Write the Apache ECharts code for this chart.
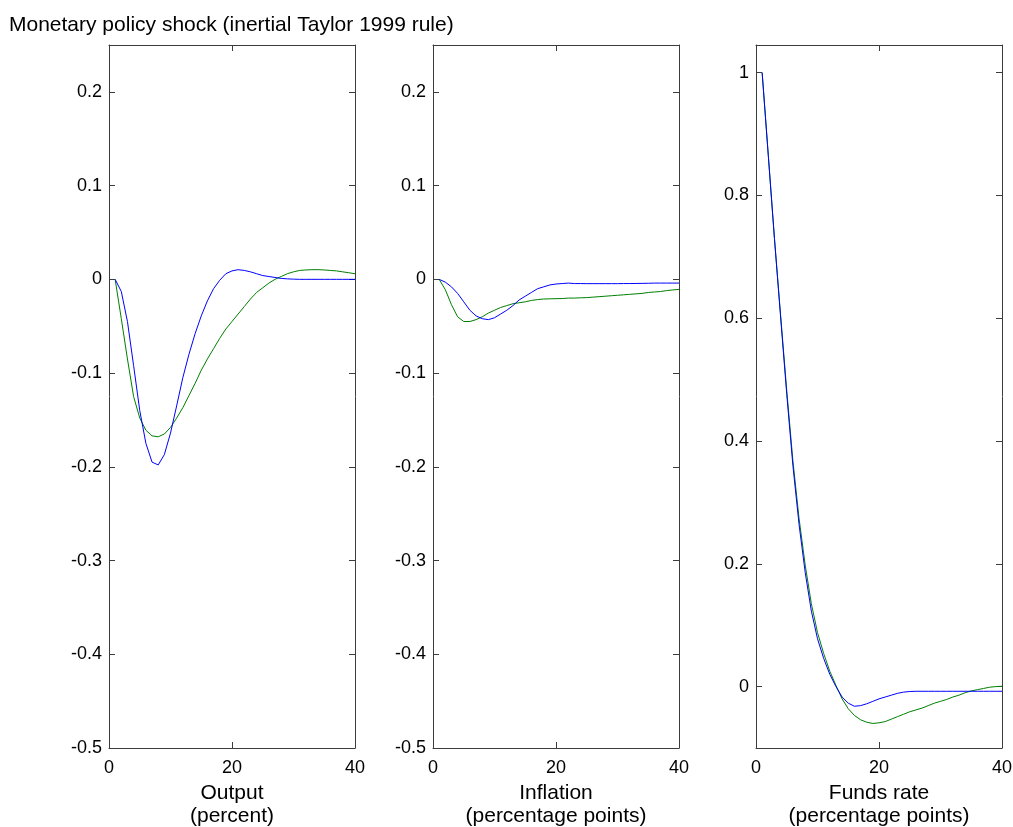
<!DOCTYPE html>
<html>
<head>
<meta charset="utf-8">
<script src="https://cdn.jsdelivr.net/npm/echarts@6/dist/echarts.min.js"></script>
<style>
  html, body { margin: 0; padding: 0; background: #ffffff; overflow: hidden; }
  #chart { width: 1013px; height: 827px; }
</style>
</head>
<body>
<div id="chart"></div>
<script>
// Quarters after the shock
const quarters = [1, 2, 3, 4, 5, 6, 7, 8, 9, 10, 11, 12, 13, 14, 15, 16, 17, 18, 19, 20,
                  21, 22, 23, 24, 25, 26, 27, 28, 29, 30, 31, 32, 33, 34, 35, 36, 37, 38, 39, 40];

// Output response (percent)
const outputBlue = [0, -0.013, -0.045, -0.092, -0.140, -0.175, -0.195, -0.198, -0.187, -0.164,
                    -0.135, -0.105, -0.080, -0.058, -0.039, -0.023, -0.010, -0.001, 0.006, 0.009,
                    0.0103, 0.0095, 0.008, 0.006, 0.004, 0.003, 0.002, 0.001, 0.0005, 0.0002,
                    0, 0, 0, 0, 0, 0, 0, 0, 0, 0];
const outputGreen = [0, -0.042, -0.085, -0.125, -0.148, -0.161, -0.167, -0.168, -0.165, -0.158,
                     -0.148, -0.137, -0.124, -0.111, -0.097, -0.085, -0.074, -0.063, -0.053, -0.045,
                     -0.037, -0.029, -0.021, -0.014, -0.009, -0.004, 0.000, 0.003, 0.006, 0.008,
                     0.0095, 0.010, 0.0103, 0.0103, 0.010, 0.0095, 0.009, 0.008, 0.007, 0.006];

// Inflation response (percentage points)
const inflationBlue = [0, -0.003, -0.008, -0.015, -0.024, -0.033, -0.039, -0.042, -0.043, -0.041,
                       -0.037, -0.033, -0.028, -0.022, -0.018, -0.014, -0.010, -0.008, -0.006, -0.005,
                       -0.0045, -0.004, -0.0045, -0.0045, -0.0046, -0.0046, -0.0046, -0.0046, -0.0046, -0.0046,
                       -0.0045, -0.0045, -0.0044, -0.0043, -0.0042, -0.004, -0.004, -0.004, -0.004, -0.004];
const inflationGreen = [0, -0.011, -0.027, -0.040, -0.045, -0.045, -0.043, -0.040, -0.036, -0.033,
                        -0.030, -0.028, -0.026, -0.025, -0.024, -0.0225, -0.0216, -0.021, -0.0208, -0.0206,
                        -0.0205, -0.020, -0.020, -0.0197, -0.0195, -0.019, -0.0185, -0.018, -0.0175, -0.017,
                        -0.0165, -0.016, -0.0155, -0.015, -0.014, -0.0135, -0.013, -0.012, -0.0113, -0.0107];

// Federal funds rate response (percentage points)
const fundsBlue = [1.0, 0.865, 0.73, 0.602, 0.476, 0.36, 0.264, 0.186, 0.123, 0.078,
                   0.046, 0.02, 0.0, -0.017, -0.027, -0.032, -0.031, -0.028, -0.024, -0.020,
                   -0.017, -0.014, -0.011, -0.009, -0.008, -0.0076, -0.0076, -0.0076, -0.0076, -0.0076,
                   -0.0076, -0.0076, -0.0076, -0.0076, -0.0076, -0.0076, -0.0076, -0.0076, -0.0076, -0.0076];
const fundsGreen = [1.0, 0.865, 0.73, 0.605, 0.482, 0.368, 0.274, 0.198, 0.135, 0.088,
                    0.054, 0.025, 0.002, -0.020, -0.036, -0.047, -0.054, -0.058, -0.060, -0.059,
                    -0.057, -0.053, -0.049, -0.045, -0.041, -0.038, -0.035, -0.031, -0.027, -0.024,
                    -0.021, -0.017, -0.014, -0.010, -0.007, -0.005, -0.003, -0.001, 0.0, 0.0005];

// Tick values
const xTicks = [0, 20, 40];
const smallTicks = [-0.5, -0.4, -0.3, -0.2, -0.1, 0, 0.1, 0.2];
const fundsTicks = [0, 0.2, 0.4, 0.6, 0.8, 1];

// Panel titles (two lines under each x axis)
const panelNames = ['Output\n(percent)', 'Inflation\n(percentage points)', 'Funds rate\n(percentage points)'];

const FONT = 'Liberation Sans';
const AXIS_COLOR = '#3c3c3c';
const BLUE = '#0000ff';
const GREEN = '#008000';

const panels = [
  { left: 109, blue: outputBlue, green: outputGreen, min: -0.5, max: 0.25, ticks: smallTicks },
  { left: 433, blue: inflationBlue, green: inflationGreen, min: -0.5, max: 0.25, ticks: smallTicks },
  { left: 756, blue: fundsBlue, green: fundsGreen, min: -0.1, max: 1.045, ticks: fundsTicks }
];

const fmt = v => String(Math.round(v * 1000) / 1000);

const grid = [], xAxis = [], yAxis = [], series = [];

panels.forEach((p, i) => {
  grid.push({ left: p.left, top: 45, width: 246, height: 703,
              containLabel: false, outerBoundsMode: 'none' });

  const lineStyle = { color: AXIS_COLOR, width: 1 };
  // bottom x axis with labels and name
  xAxis.push({
    type: 'value', gridIndex: i, min: 0, max: 40, position: 'bottom',
    axisLine: { show: true, onZero: false, lineStyle },
    axisTick: { show: true, inside: true, length: 6, lineStyle, customValues: xTicks },
    axisLabel: { show: true, color: '#000', fontFamily: FONT, fontSize: 18, margin: 11, customValues: xTicks },
    splitLine: { show: false },
    name: panelNames[i], nameLocation: 'middle', nameGap: 34,
    nameTextStyle: { color: '#000', fontFamily: FONT, fontSize: 21, lineHeight: 23, verticalAlign: 'top' }
  });
  // top mirror axis (box edge + ticks)
  xAxis.push({
    type: 'value', gridIndex: i, min: 0, max: 40, position: 'top',
    axisLine: { show: true, onZero: false, lineStyle },
    axisTick: { show: true, inside: true, length: 6, lineStyle, customValues: xTicks },
    axisLabel: { show: false },
    splitLine: { show: false }
  });
  // left y axis with labels
  yAxis.push({
    type: 'value', gridIndex: i, min: p.min, max: p.max, position: 'left',
    axisLine: { show: true, onZero: false, lineStyle },
    axisTick: { show: true, inside: true, length: 6, lineStyle, customValues: p.ticks },
    axisLabel: { show: true, color: '#000', fontFamily: FONT, fontSize: 18, margin: 7,
                 customValues: p.ticks, formatter: fmt },
    splitLine: { show: false }
  });
  // right mirror axis
  yAxis.push({
    type: 'value', gridIndex: i, min: p.min, max: p.max, position: 'right',
    axisLine: { show: true, onZero: false, lineStyle },
    axisTick: { show: true, inside: true, length: 6, lineStyle, customValues: p.ticks },
    axisLabel: { show: false },
    splitLine: { show: false }
  });

  const mk = (vals, color, z) => ({
    type: 'line', xAxisIndex: 2 * i, yAxisIndex: 2 * i,
    data: quarters.map((q, k) => [q, vals[k]]),
    showSymbol: false, smooth: false, silent: true, z,
    lineStyle: { color, width: 1 }, itemStyle: { color }
  });
  series.push(mk(p.green, GREEN, 2));
  series.push(mk(p.blue, BLUE, 3));
});

const chart = echarts.init(document.getElementById('chart'), null, { renderer: 'canvas' });
chart.setOption({
  animation: false,
  backgroundColor: '#ffffff',
  title: {
    text: 'Monetary policy shock (inertial Taylor 1999 rule)',
    left: 4, top: 10,
    textStyle: { color: '#000', fontFamily: FONT, fontSize: 21, fontWeight: 'normal' }
  },
  grid, xAxis, yAxis, series
});
</script>
</body>
</html>
